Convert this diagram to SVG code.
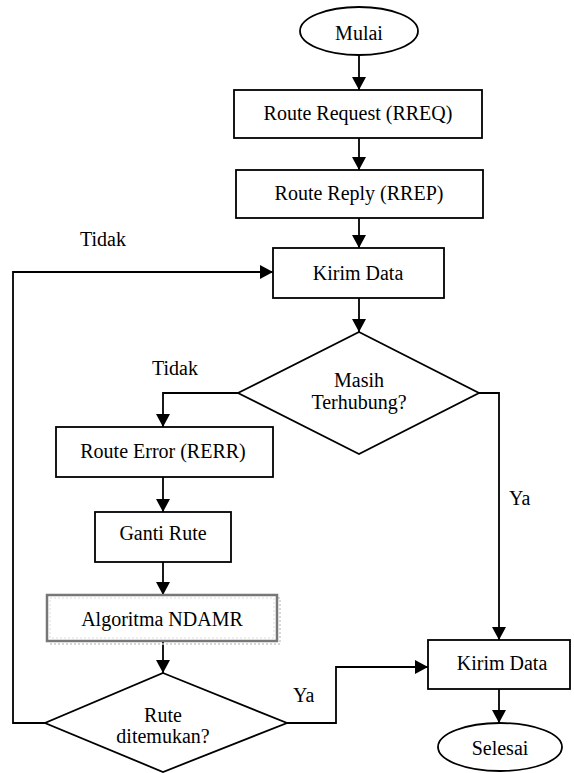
<svg xmlns="http://www.w3.org/2000/svg" width="574" height="773" viewBox="0 0 574 773">
<style>
.s{fill:#fff;stroke:#000;stroke-width:1.8}
.t{font-family:"Liberation Serif","Times New Roman",serif;font-size:20px;fill:#000;text-anchor:middle}
.l{font-family:"Liberation Serif","Times New Roman",serif;font-size:20px;fill:#000}
.c{fill:none;stroke:#000;stroke-width:1.8}
</style>
<defs>
<marker id="a" markerUnits="userSpaceOnUse" markerWidth="14" markerHeight="14" refX="13" refY="7" orient="auto">
<path d="M0,0 L13,7 L0,14 Z" fill="#000"/>
</marker>
</defs>
<rect width="574" height="773" fill="#fff"/>
<g id="connectors">
<path class="c" d="M359,55 V90" marker-end="url(#a)"/>
<path class="c" d="M359,138 V170" marker-end="url(#a)"/>
<path class="c" d="M359,218 V248" marker-end="url(#a)"/>
<path class="c" d="M359,298 V332" marker-end="url(#a)"/>
<path class="c" d="M238,393 H163 V427" marker-end="url(#a)"/>
<path class="c" d="M163,477 V512" marker-end="url(#a)"/>
<path class="c" d="M163,562 V595" marker-end="url(#a)"/>
<path class="c" d="M163,641 V673" marker-end="url(#a)"/>
<path class="c" d="M45,723 H13 V272 H273" marker-end="url(#a)"/>
<path class="c" d="M287,723 H336 V667 H428" marker-end="url(#a)"/>
<path class="c" d="M479,393 H499 V640" marker-end="url(#a)"/>
<path class="c" d="M499,689 V723" marker-end="url(#a)"/>
<text class="l" x="80" y="246">Tidak</text>
<text class="l" x="152" y="375">Tidak</text>
<text class="l" x="509" y="505">Ya</text>
<text class="l" x="293" y="702">Ya</text>
</g>
<g id="mulai">
<ellipse class="s" cx="359" cy="31" rx="59" ry="24"/>
<text class="t" x="359" y="40">Mulai</text>
</g>
<g id="rreq">
<rect class="s" x="234" y="90" width="248" height="48"/>
<text class="t" x="358" y="120">Route Request (RREQ)</text>
</g>
<g id="rrep">
<rect class="s" x="236" y="170" width="247" height="48"/>
<text class="t" x="359" y="200">Route Reply (RREP)</text>
</g>
<g id="kirim1">
<rect class="s" x="273" y="248" width="171" height="50"/>
<text class="t" x="358" y="280">Kirim Data</text>
</g>
<g id="masih">
<polygon class="s" points="359,332 479,393 359,454 238,393"/>
<text class="t" x="359" y="387">Masih</text>
<text class="t" x="359" y="409">Terhubung?</text>
</g>
<g id="rerr">
<rect class="s" x="56" y="427" width="217" height="50"/>
<text class="t" x="163" y="458">Route Error (RERR)</text>
</g>
<g id="ganti">
<rect class="s" x="95" y="512" width="136" height="50"/>
<text class="t" x="163" y="540">Ganti Rute</text>
</g>
<g id="ndamr">
<rect x="50" y="598" width="230" height="46" fill="none" stroke="#ccc" stroke-width="1.5" stroke-dasharray="2,2"/>
<rect x="47" y="595" width="230" height="46" fill="#fff" stroke="#777" stroke-width="2.5"/>
<rect x="50" y="598" width="224" height="40" fill="none" stroke="#ddd" stroke-width="1" stroke-dasharray="2,2"/>
<text class="t" x="162" y="626">Algoritma NDAMR</text>
</g>
<g id="rute">
<polygon class="s" points="163,673 287,723 163,772 45,723"/>
<text class="t" x="163" y="722">Rute</text>
<text class="t" x="163" y="743">ditemukan?</text>
</g>
<g id="kirim2">
<rect class="s" x="428" y="640" width="142" height="49"/>
<text class="t" x="502" y="670">Kirim Data</text>
</g>
<g id="selesai">
<ellipse class="s" cx="500" cy="747" rx="62" ry="24"/>
<text class="t" x="500" y="755">Selesai</text>
</g>
</svg>
